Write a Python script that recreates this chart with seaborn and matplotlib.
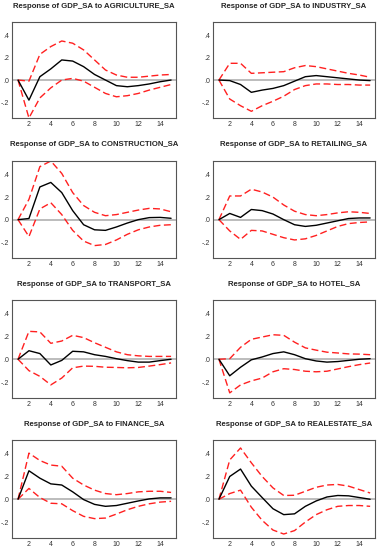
import numpy as np
import pandas as pd
import seaborn as sns
import matplotlib
matplotlib.use("Agg")
import matplotlib.pyplot as plt
from matplotlib.ticker import FuncFormatter, MultipleLocator

periods = list(range(1, 16))
sectors = ["AGRICULTURE_SA", "INDUSTRY_SA", "CONSTRUCTION_SA", "RETAILING_SA",
           "TRANSPORT_SA", "HOTEL_SA", "FINANCE_SA", "REALESTATE_SA"]

# impulse responses (point estimate, upper band, lower band)
agri_resp = [0, -0.18, 0.03, 0.10, 0.18, 0.17, 0.12, 0.05, 0.0, -0.05, -0.06, -0.05, -0.035, -0.015, 0.0]
agri_up = [0, -0.01, 0.23, 0.30, 0.35, 0.33, 0.27, 0.18, 0.09, 0.045, 0.025, 0.025, 0.035, 0.045, 0.05]
agri_lo = [0, -0.34, -0.16, -0.07, 0.0, 0.015, -0.01, -0.065, -0.12, -0.15, -0.14, -0.12, -0.09, -0.065, -0.04]

ind_resp = [0, -0.005, -0.04, -0.11, -0.09, -0.075, -0.05, -0.01, 0.03, 0.04, 0.03, 0.02, 0.01, 0.0, -0.005]
ind_up = [0, 0.15, 0.15, 0.06, 0.065, 0.07, 0.075, 0.11, 0.13, 0.12, 0.10, 0.08, 0.06, 0.045, 0.025]
ind_lo = [0, -0.17, -0.23, -0.28, -0.23, -0.19, -0.145, -0.085, -0.05, -0.035, -0.035, -0.04, -0.04, -0.045, -0.045]

cons_resp = [0, 0.01, 0.29, 0.33, 0.24, 0.08, -0.045, -0.09, -0.095, -0.065, -0.03, 0.0, 0.018, 0.02, 0.012]
cons_up = [0, 0.18, 0.47, 0.52, 0.41, 0.24, 0.125, 0.065, 0.035, 0.045, 0.065, 0.085, 0.10, 0.095, 0.07]
cons_lo = [0, -0.15, 0.095, 0.15, 0.045, -0.095, -0.19, -0.23, -0.22, -0.18, -0.13, -0.09, -0.065, -0.05, -0.045]

ret_resp = [0, 0.055, 0.02, 0.09, 0.08, 0.05, 0.0, -0.045, -0.06, -0.05, -0.03, -0.01, 0.01, 0.015, 0.015]
ret_up = [0, 0.21, 0.21, 0.27, 0.245, 0.20, 0.13, 0.075, 0.045, 0.035, 0.045, 0.06, 0.07, 0.065, 0.055]
ret_lo = [0, -0.10, -0.175, -0.095, -0.10, -0.13, -0.16, -0.18, -0.17, -0.14, -0.10, -0.06, -0.035, -0.025, -0.02]

trans_resp = [0, 0.075, 0.05, -0.05, -0.01, 0.07, 0.065, 0.04, 0.025, 0.005, -0.012, -0.025, -0.025, -0.012, 0.0]
trans_up = [0, 0.245, 0.24, 0.14, 0.16, 0.21, 0.19, 0.145, 0.105, 0.065, 0.04, 0.03, 0.025, 0.025, 0.025]
trans_lo = [0, -0.10, -0.15, -0.225, -0.165, -0.075, -0.06, -0.062, -0.07, -0.072, -0.075, -0.072, -0.06, -0.047, -0.032]

hotel_resp = [0, -0.145, -0.07, -0.005, 0.02, 0.05, 0.065, 0.04, 0.005, -0.015, -0.025, -0.02, -0.01, 0.0, 0.005]
hotel_up = [0, 0.005, 0.105, 0.175, 0.195, 0.215, 0.21, 0.15, 0.10, 0.08, 0.062, 0.055, 0.047, 0.045, 0.04]
hotel_lo = [0, -0.295, -0.225, -0.19, -0.165, -0.11, -0.083, -0.09, -0.105, -0.11, -0.105, -0.085, -0.065, -0.047, -0.033]

fin_resp = [0, 0.25, 0.185, 0.135, 0.125, 0.065, -0.003, -0.045, -0.062, -0.055, -0.035, -0.015, 0.003, 0.012, 0.012]
fin_up = [0, 0.405, 0.34, 0.30, 0.29, 0.185, 0.125, 0.08, 0.05, 0.04, 0.05, 0.065, 0.07, 0.07, 0.06]
fin_lo = [0, 0.095, 0.015, -0.035, -0.04, -0.10, -0.15, -0.17, -0.165, -0.13, -0.092, -0.062, -0.04, -0.025, -0.018]

re_resp = [0, 0.20, 0.265, 0.115, 0.015, -0.083, -0.135, -0.128, -0.062, -0.015, 0.02, 0.033, 0.03, 0.015, 0.0]
re_up = [0, 0.345, 0.45, 0.32, 0.20, 0.10, 0.033, 0.035, 0.07, 0.105, 0.125, 0.13, 0.115, 0.085, 0.055]
re_lo = [0, 0.05, 0.08, -0.07, -0.185, -0.27, -0.305, -0.275, -0.20, -0.135, -0.092, -0.062, -0.055, -0.055, -0.062]

responses = [agri_resp, ind_resp, cons_resp, ret_resp, trans_resp, hotel_resp, fin_resp, re_resp]
uppers = [agri_up, ind_up, cons_up, ret_up, trans_up, hotel_up, fin_up, re_up]
lowers = [agri_lo, ind_lo, cons_lo, ret_lo, trans_lo, hotel_lo, fin_lo, re_lo]

sns.set_style("white")
plt.rcParams['font.family'] = ['Liberation Sans', 'DejaVu Sans']

W, H = 382, 550
fig = plt.figure(figsize=(W / 100, H / 100), dpi=100)

col_x = [(12, 176), (213, 375)]
row_y = [(22, 118), (161, 258), (300, 398), (440, 538)]

def fmt(v, pos):
    s = "%.1f" % v
    s = s.replace("0.", ".")
    if s == "-.0":
        s = ".0"
    return s

for i, sec in enumerate(sectors):
    r, c = divmod(i, 2)
    x0, x1 = col_x[c]
    y0, y1 = row_y[r]
    ax = fig.add_axes([x0 / W, 1 - y1 / H, (x1 - x0) / W, (y1 - y0) / H])
    df = pd.DataFrame({"period": periods, "resp": responses[i],
                       "up": uppers[i], "lo": lowers[i]})
    ax.axhline(0, color="#b0b0b0", lw=1.2, zorder=1)
    sns.lineplot(data=df, x="period", y="up", ax=ax, color="#ff2020", lw=1.0,
                 linestyle=(0, (5, 2.5)))
    sns.lineplot(data=df, x="period", y="lo", ax=ax, color="#ff2020", lw=1.0,
                 linestyle=(0, (5, 2.5)))
    sns.lineplot(data=df, x="period", y="resp", ax=ax, color="black", lw=1.0)
    ax.set_xlim(0.45, 15.45)
    ax.set_ylim(-0.34, 0.52)
    ax.xaxis.set_major_locator(MultipleLocator(2))
    ax.xaxis.set_minor_locator(MultipleLocator(1))
    ax.yaxis.set_major_locator(MultipleLocator(0.2))
    ax.yaxis.set_major_formatter(FuncFormatter(fmt))
    ax.tick_params(which="both", direction="in", labelsize=5, length=2.5,
                   width=0.6, pad=2, colors="#333333")
    ax.tick_params(which="minor", length=1.5)
    ax.set_xlabel("")
    ax.set_ylabel("")
    for sp in ax.spines.values():
        sp.set_color("#555555")
        sp.set_linewidth(0.8)
    fig.text((x0 + x1) / 2 / W, 1 - (y0 - 16) / H,
             "Response of GDP_SA to " + sec, ha="center", va="center",
             fontsize=5.6, fontweight="bold")

fig.savefig("out.png", dpi=100)
